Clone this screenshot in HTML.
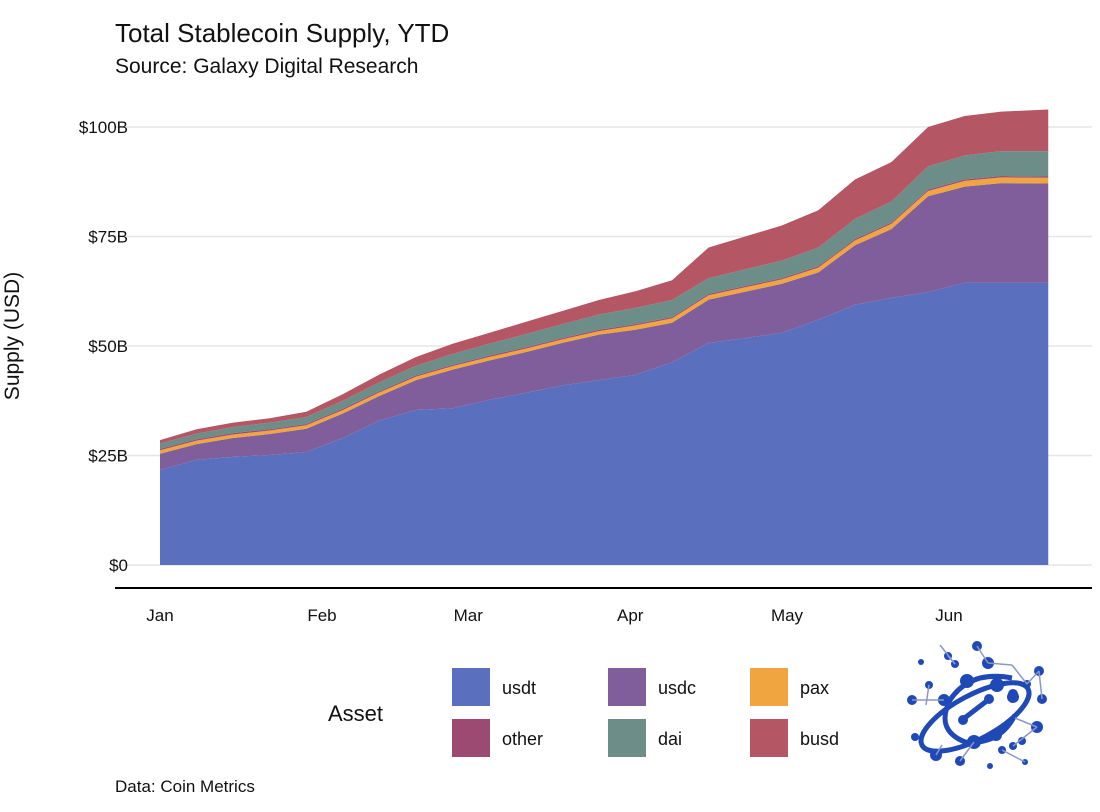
<!DOCTYPE html>
<html><head><meta charset="utf-8"><style>
body{margin:0;background:#fff;width:1100px;height:807px;overflow:hidden;font-family:"Liberation Sans",sans-serif;}
svg text{font-family:"Liberation Sans",sans-serif;}
</style></head><body>
<svg id="chart" width="1100" height="807">
<text x="115" y="42" font-size="26" fill="#111">Total Stablecoin Supply, YTD</text>
<text x="115" y="73" font-size="21" fill="#111">Source: Galaxy Digital Research</text>
<text transform="translate(19,336) rotate(-90)" text-anchor="middle" font-size="21" fill="#111">Supply (USD)</text>
<g id="grid"></g>
<g id="areas"></g>
<line x1="115" x2="1092" y1="588" y2="588" stroke="#000" stroke-width="2"/>
<g id="xt"></g>
<text x="328" y="721" font-size="22" fill="#111">Asset</text>
<g id="legend"></g>
<text x="115" y="792" font-size="17" fill="#111">Data: Coin Metrics</text>
<g id="logo" fill="#1f49b6" stroke="#1f49b6"></g>
</svg>
<script>
const days=[0,7,14,21,28,35,42,49,56,63,70,77,84,91,98,105,112,119,126,133,140,147,154,161,170];
const usdt=[21.7,24,24.7,25.1,25.8,29,33,35.4,35.8,37.7,39.3,41,42.2,43.4,46.3,50.7,51.8,53,56,59.4,61,62.3,64.4,64.4,64.4];
const usdc=[3.7,3.6,4.3,4.8,5.3,5.6,5.6,6.8,8.8,9,9.3,9.7,10.4,10.3,9,9.9,10.6,11.2,10.8,13.6,15.7,21.9,22,22.8,22.7];
const pax=[0.8,0.8,0.8,0.8,0.8,0.8,0.8,0.8,0.8,0.8,0.8,0.8,0.8,1,1,1,1,1,1.1,1.1,1.2,1.2,1.3,1.3,1.3];
const other=[0.3,0.3,0.3,0.3,0.3,0.3,0.3,0.3,0.3,0.3,0.3,0.3,0.3,0.3,0.3,0.3,0.3,0.3,0.3,0.3,0.3,0.3,0.3,0.3,0.3];
const dai=[1.2,1.3,1.4,1.5,1.6,1.8,2,2.2,2.5,2.7,3,3.2,3.5,3.7,3.9,3.6,3.8,4,4.3,4.6,4.8,5.3,5.5,5.7,5.8];
const busd=[0.8,1,1,1,1.2,1.5,1.8,2,2.3,2.5,2.8,3,3.3,3.8,4.5,7,7.5,8,8.5,9,9,9,9,9,9.5];
const yTicks=[0,25,50,75,100];
const yTickLabels=["$0","$25B","$50B","$75B","$100B"];
const monthDays=[0,31,59,90,120,151];
const monthLabels=["Jan","Feb","Mar","Apr","May","Jun"];
const NS="http://www.w3.org/2000/svg";
const xS=d=>160+d*5.225, yS=v=>565-v*4.38;
function mk(t,a,p){const e=document.createElementNS(NS,t);for(const k in a)e.setAttribute(k,a[k]);p.appendChild(e);return e;}
const grid=document.getElementById('grid');
yTicks.forEach((v,i)=>{
 const l=mk('line',{x1:115,x2:1092,y1:yS(v),y2:yS(v),stroke:'#e6e6e6','stroke-width':1.5},grid);
 
 
 const t=mk('text',{x:128,y:yS(v)+6,'text-anchor':'end','font-size':17,fill:'#111'},grid);t.textContent=yTickLabels[i];
 
 
});
const xt=document.getElementById('xt');
monthDays.forEach((d,i)=>{const t=mk('text',{x:xS(d),y:621,'text-anchor':'middle','font-size':17,fill:'#111'},xt);t.textContent=monthLabels[i];
 
 });
const series=[["usdt",usdt,"#5b6fbf"],["usdc",usdc,"#805e9c"],["pax",pax,"#f0a541"],["other",other,"#9c4a72"],["dai",dai,"#6d8d89"],["busd",busd,"#b45664"]];
const areas=document.getElementById('areas');
let base=days.map(()=>0);
series.forEach(([n,vals,c])=>{
 const top=base.map((b,i)=>b+vals[i]);
 let d='';
 days.forEach((x,i)=>{d+=(i?'L':'M')+xS(x)+','+yS(top[i]);});
 for(let i=days.length-1;i>=0;i--)d+='L'+xS(days[i])+','+yS(base[i]);
 const p=mk('path',{d:d+'Z',fill:c},areas);
 
 
 base=top;
});
const lg=document.getElementById('legend');
const pos=[[452,668],[608,668],[750,668],[452,719],[608,719],[750,719]];
series.forEach(([n,v,c],i)=>{
 const r=mk('rect',{x:pos[i][0],y:pos[i][1],width:38,height:38,fill:c},lg);
 
 
 const t=mk('text',{x:pos[i][0]+50,y:pos[i][1]+26,'font-size':18,fill:'#111'},lg);
 t.textContent=n;
 
 
});
const lo=document.getElementById('logo');
mk('ellipse',{cx:975,cy:717,rx:60,ry:22,transform:'rotate(-28 975 717)',fill:'none','stroke-width':5},lo);
mk('path',{d:'M1012 678 Q970 670 950 700 Q935 730 965 742 Q1000 745 1015 715',fill:'none','stroke-width':5},lo);
mk('line',{x1:962,y1:720,x2:988,y2:700,'stroke-width':5},lo);
const dots=[[967,681,7],[997,685,7],[944,700,6],[1013,697,6],[963,720,5],[989,699,5],[974,742,7],[996,735,6],[1013,694,5],[912,700,5],[929,685,4],[915,737,4],[1037,727,6],[1013,746,4],[936,755,6],[960,761,5],[1002,750,4],[948,656,4],[977,646,5],[988,663,6],[955,664,4],[1039,671,5],[1027,684,4],[1042,699,5],[1022,741,4],[921,662,3],[990,766,3],[1025,762,3]];
dots.forEach(d=>mk('circle',{cx:d[0],cy:d[1],r:d[2],stroke:'none'},lo));
[[948,656,955,664],[977,646,988,663],[988,663,1012,665],[1012,665,1027,684],[1027,684,1039,671],[1039,671,1042,699],[929,685,926,705],[912,700,944,700],[1037,727,1015,718],[1013,746,1037,727],[936,755,942,745],[960,761,974,742],[1002,750,1025,762],[940,645,955,664]].forEach(l=>mk('line',{x1:l[0],y1:l[1],x2:l[2],y2:l[3],stroke:'#8a97c8','stroke-width':1.5},lo));
</script>
</body></html>
